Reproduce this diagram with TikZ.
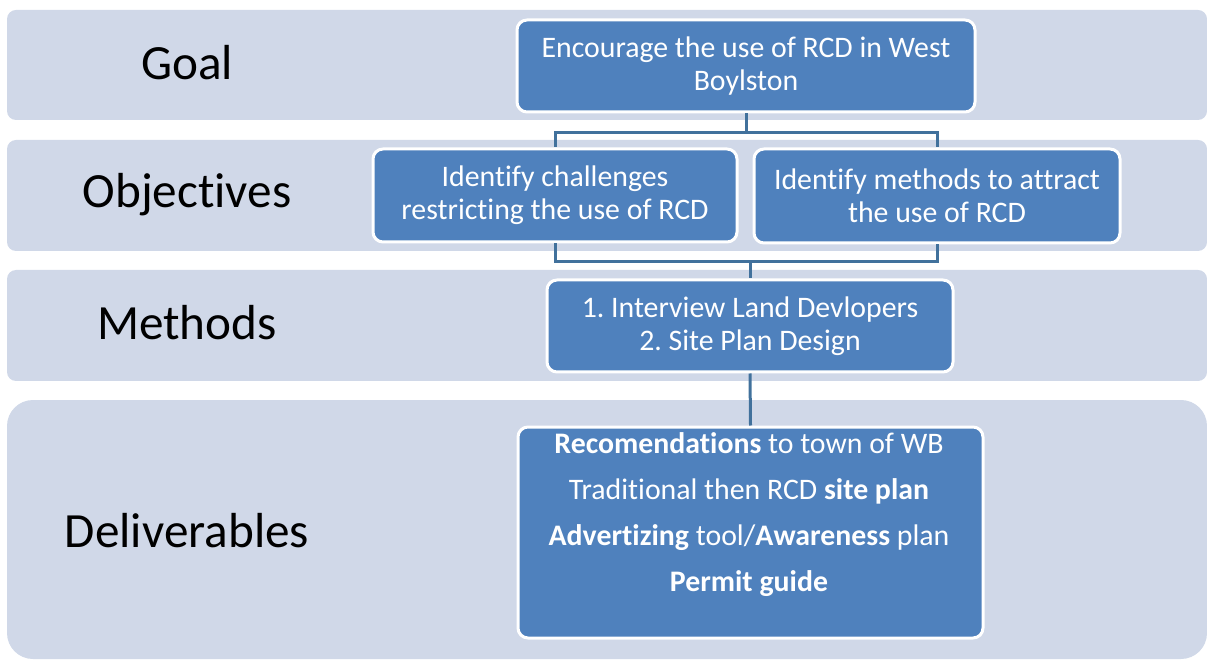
\documentclass[tikz,border=0pt]{standalone}
\usepackage{fontspec}
\setmainfont[Ligatures=NoCommon]{Carlito}
\usepackage{tikz}
\definecolor{bandgray}{HTML}{D0D8E8}
\definecolor{boxblue}{HTML}{4F81BD}
\definecolor{linkblue}{HTML}{41719C}
\newcommand{\pxu}{0.025cm}
\frenchspacing

\begin{document}
\begin{tikzpicture}[x=\pxu,y=-\pxu,
    band/.style={fill=bandgray,rounded corners=9*\pxu},
    lbl/.style={font=\fontsize{35}{40}\selectfont,text=black,inner sep=0pt},
    box/.style={fill=boxblue,draw=white,line width=3*\pxu,rounded corners=10*\pxu,
        text=white,align=center,inner sep=0pt,font=\fontsize{21.2}{23.3}\selectfont},
    link/.style={draw=linkblue,line width=3*\pxu}]
    \useasboundingbox (0,0) rectangle (1207,661);

    % bands
    \fill[band] (7,10) rectangle (1207,120);
    \fill[band] (7,140) rectangle (1207,251);
    \fill[band] (7,270) rectangle (1207,381);
    \fill[band,rounded corners=26*\pxu] (7,400) rectangle (1207,659);

    \node[lbl,anchor=base] (goallbl) at (187,80) {Goal};
    \node[lbl,anchor=base] (objlbl) at (187,208) {Objectives};
    \node[lbl,anchor=base] (methlbl) at (187,340) {Methods};
    \node[lbl,anchor=base] (delivlbl) at (187,547) {Deliverables};

    % boxes
    \node[box,minimum width=458*\pxu,minimum height=92*\pxu] (goal) at (746,66)
        {Encourage the use of RCD in West\\Boylston};
    \node[box,minimum width=364*\pxu,minimum height=93*\pxu] (obj1) at (555,195.5)
        {Identify challenges\\restricting the use of RCD};
    \node[box,minimum width=366*\pxu,minimum height=94*\pxu] (obj2) at (937,196)
        {Identify methods to attract\\the use of RCD};
    \node[box,minimum width=406*\pxu,minimum height=92*\pxu] (meth) at (750,326)
        {1. Interview Land Devlopers\\2. Site Plan Design};
    \node[box,minimum width=465*\pxu,minimum height=211*\pxu] (deliv) at (750.5,532.5) {};
    \node[text=white,align=center,inner sep=0pt,anchor=north,
        font=\fontsize{21.2}{32.7}\selectfont] (delivtext) at (749,432)
        {\textbf{Recomendations} to town of WB\\
         Traditional then RCD \textbf{site plan}\\
         \textbf{Advertizing} tool/\textbf{Awareness} plan\\
         \textbf{Permit guide}};

    % connectors
    \coordinate (split) at (746,133);
    \coordinate (merge) at (750,262);
    \draw[link] (goal.south) -- (goal.south |- split) -| (obj1.north);
    \draw[link] (goal.south |- split) -| (obj2.north);
    \draw[link] (obj1.south) |- (merge) -| (obj2.south);
    \draw[link] (merge) -- (meth.north);
    \draw[link] (meth.south) -- (deliv.north);
\end{tikzpicture}
\end{document}
